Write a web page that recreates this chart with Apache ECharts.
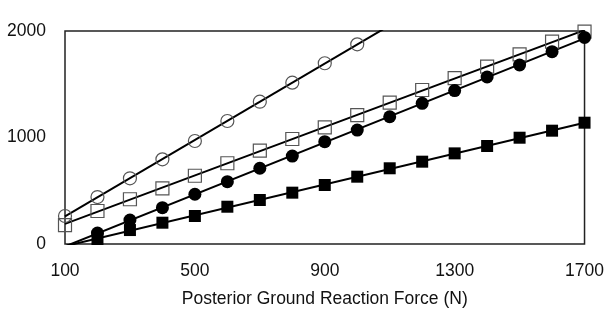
<!DOCTYPE html>
<html>
<head>
<meta charset="utf-8">
<script src="https://cdn.jsdelivr.net/npm/echarts@6/dist/echarts.min.js"></script>
<style>
  html, body { margin: 0; padding: 0; background: #fff; }
  #chart { width: 607px; height: 314px; }
</style>
</head>
<body>
<div id="chart"></div>
<script>
// force values (N)
const forceFrom100 = [100, 200, 300, 400, 500, 600, 700, 800, 900, 1000, 1100, 1200, 1300, 1400, 1500, 1600, 1700];
const forceFrom200 = [200, 300, 400, 500, 600, 700, 800, 900, 1000, 1100, 1200, 1300, 1400, 1500, 1600, 1700];

// series values
const openCircle = [263, 441, 617, 795, 967, 1155, 1336, 1515, 1697, 1875];
const openSquare = [178, 310, 420, 523, 641, 758, 876, 986, 1096, 1211, 1327, 1446, 1558, 1665, 1781, 1900, 1995];
const filledCircle = [103, 225, 341, 467, 585, 711, 826, 961, 1070, 1195, 1321, 1441, 1568, 1681, 1806, 1940];
const filledSquare = [47, 131, 200, 263, 350, 413, 482, 554, 632, 711, 773, 851, 920, 998, 1064, 1139];

const xTicks = [100, 500, 900, 1300, 1700];
const yTicks = [0, 1000, 2000];

const pairs = (xs, ys) => ys.map((y, i) => [xs[i], y]);

// least squares fit, drawn across the whole x range (clipped by the grid)
const fitLine = (pts) => {
  const n = pts.length;
  let sx = 0, sy = 0, sxx = 0, sxy = 0;
  pts.forEach(([x, y]) => { sx += x; sy += y; sxx += x * x; sxy += x * y; });
  const b = (n * sxy - sx * sy) / (n * sxx - sx * sx);
  const a = (sy - b * sx) / n;
  return [[xTicks[0], a + b * xTicks[0]], [xTicks[xTicks.length - 1], a + b * xTicks[xTicks.length - 1]]];
};

const sets = [
  { data: pairs(forceFrom100, openCircle), symbol: 'circle', size: 13, filled: false },
  { data: pairs(forceFrom100, openSquare), symbol: 'rect', size: 13, filled: false },
  { data: pairs(forceFrom200, filledCircle), symbol: 'circle', size: 13, filled: true },
  { data: pairs(forceFrom200, filledSquare), symbol: 'rect', size: 12, filled: true },
];

const series = [];
sets.forEach(s => {
  series.push({
    type: 'line',
    data: fitLine(s.data),
    symbol: 'none',
    clip: true,
    lineStyle: { color: '#000', width: 2 },
    z: 2,
  });
  series.push({
    type: 'scatter',
    data: s.data,
    symbol: s.symbol,
    symbolSize: s.size,
    itemStyle: s.filled
      ? { color: '#000', borderColor: '#000', borderWidth: 0, opacity: 1 }
      : { color: 'rgba(0,0,0,0)', borderColor: '#555', borderWidth: 1.2, opacity: 1 },
    z: 3,
  });
});

const labelStyle = { fontFamily: 'Liberation Sans', fontSize: 17.5, color: '#111' };

const chart = echarts.init(document.getElementById('chart'));
chart.setOption({
  animation: false,
  grid: { left: 65, right: 19, top: 31, bottom: 70, show: true, borderColor: '#222', borderWidth: 1.5, backgroundColor: 'transparent' },
  xAxis: {
    type: 'value',
    min: xTicks[0],
    max: xTicks[xTicks.length - 1],
    interval: 400,
    name: 'Posterior Ground Reaction Force (N)',
    nameLocation: 'middle',
    nameGap: 46,
    nameTextStyle: { fontFamily: 'Liberation Sans', fontSize: 17.5, color: '#111' },
    axisLine: { show: false },
    axisTick: { show: false },
    splitLine: { show: false },
    axisLabel: Object.assign({ margin: 18, formatter: v => String(v) }, labelStyle),
  },
  yAxis: {
    type: 'value',
    min: yTicks[0],
    max: yTicks[yTicks.length - 1],
    interval: 1000,
    axisLine: { show: false },
    axisTick: { show: false },
    splitLine: { show: false },
    axisLabel: Object.assign({ margin: 19, formatter: v => String(v) }, labelStyle),
  },
  series: series,
});
</script>
</body>
</html>
